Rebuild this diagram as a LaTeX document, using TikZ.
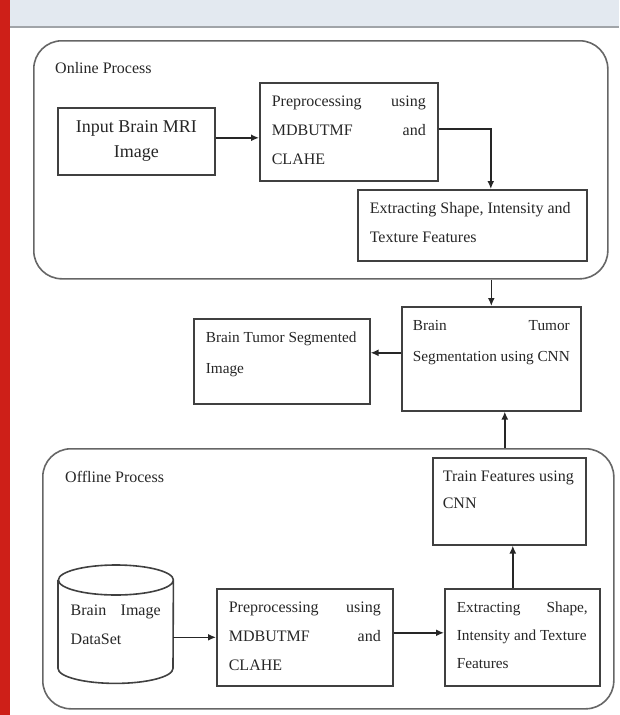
\documentclass[tikz,border=0pt]{standalone}
\usepackage{fontspec}
\setmainfont{Liberation Serif}
\usetikzlibrary{arrows.meta}
\definecolor{barblue}{HTML}{E3E9F0}
\definecolor{bargrey}{HTML}{A0A4A8}
\definecolor{stripred}{HTML}{CE1F18}
% top aligned text inside a box: width, height, lines
\newcommand{\boxtext}[3]{\parbox[c][#2pt][t]{#1pt}{\rule{0pt}{24pt}#3}}
\tikzset{
  stepbox/.style={draw=black!75, line width=1.6pt, inner xsep=12pt, inner ysep=0pt, anchor=north west},
  group/.style={draw=black!60, line width=1.6pt, rounded corners=28pt, anchor=north west, inner sep=0pt},
  arr/.style={-{Latex[length=8pt,width=7pt]}, draw=black!85, line width=1.5pt},
}
\begin{document}
\begin{tikzpicture}[x=1pt,y=-1pt,font=\fontsize{16}{29}\selectfont,text=black!85]
\useasboundingbox (0,0) rectangle (619,715);
\fill[stripred] (0,0) rectangle (10,715);
\fill[barblue] (10,0) rectangle (619,26);
\fill[bargrey] (10,25.5) rectangle (619,28);

% online part
\node[group, minimum width=574pt, minimum height=238pt] (online) at (33,40) {};
\node[anchor=base west, inner sep=0pt] (onlinelbl) at (55,73) {Online Process};
\node[stepbox, minimum width=157pt, minimum height=67pt, align=center, font=\fontsize{18}{25}\selectfont] (in) at (57,107) {Input Brain MRI\\Image};
\node[stepbox] (pre1) at (259,82) {\boxtext{154}{98}{Preprocessing\hfill using\\MDBUTMF\hfill and\\CLAHE}};
\node[stepbox] (ext1) at (357,189) {\boxtext{205}{71}{Extracting Shape, Intensity and\\Texture Features}};

% segmentation
\node[stepbox, inner xsep=11pt, font=\fontsize{15.3}{31}\selectfont] (seg) at (401,306) {\boxtext{157}{104}{Brain\hfill Tumor\\Segmentation using CNN}};
\node[stepbox, font=\fontsize{15.3}{31}\selectfont] (out) at (193,318) {\boxtext{152}{85}{Brain Tumor Segmented\\Image}};

% offline part
\node[group, minimum width=571pt, minimum height=260pt] (offline) at (42,448) {};
\node[anchor=base west, inner sep=0pt] (offlinelbl) at (65,482) {Offline Process};
\node[anchor=north west, inner xsep=12.5pt, inner ysep=0pt] (db) at (58,565) {\parbox[c][118pt][t]{90pt}{\rule{0pt}{50pt}Brain\hfill Image\\DataSet}};
\draw[draw=black!75, line width=1.6pt] ([yshift=-15pt]db.north west) -- ([yshift=15pt]db.south west)
  arc[start angle=180, end angle=360, x radius=57.5pt, y radius=15pt] -- ([yshift=-15pt]db.north east)
  arc[start angle=0, end angle=180, x radius=57.5pt, y radius=15pt]
  arc[start angle=180, end angle=360, x radius=57.5pt, y radius=15pt];
\node[stepbox] (pre2) at (216,588) {\boxtext{152}{97}{Preprocessing\hfill using\\MDBUTMF\hfill and\\CLAHE}};
\node[stepbox, font=\fontsize{15.3}{28}\selectfont] (ext2) at (444,588) {\boxtext{131}{97}{Extracting\hfill Shape,\\Intensity and Texture\\Features}};
\node[stepbox, inner xsep=10pt, font=\fontsize{16}{27}\selectfont] (train) at (432,457) {\boxtext{133}{87}{Train Features using\\CNN}};

% connectors
\draw[arr] ([yshift=3.5pt]in.east) -- ([yshift=3.5pt]in.east -| pre1.west);
\draw[arr] ([yshift=3pt]pre1.east) -| ([xshift=18.5pt]ext1.north);
\draw[arr] (seg.north |- online.south) -- (seg.north);
\draw[arr] ([yshift=6pt]seg.west) -- ([yshift=6pt]seg.west -| out.east);
\draw[arr] ([xshift=13.5pt]seg.south |- offline.north) -- ([xshift=13.5pt]seg.south);
\draw[arr] (pre2.west -| db.east) -- (pre2.west);
\draw[arr] ([yshift=4.5pt]pre2.east) -- ([yshift=4.5pt]pre2.east -| ext2.west);
\draw[arr] ([xshift=3.5pt]train.south |- ext2.north) -- ([xshift=3.5pt]train.south);
\end{tikzpicture}
\end{document}
